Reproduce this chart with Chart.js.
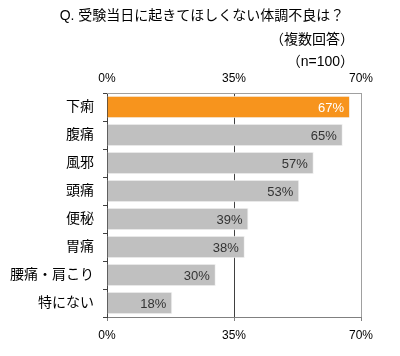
<!DOCTYPE html>
<html>
<head>
<meta charset="utf-8">
<script src="https://cdn.jsdelivr.net/npm/chart.js@4"></script>
<style>
html,body{margin:0;padding:0;background:#fff;}
#wrap{position:relative;width:400px;height:356px;}
</style>
</head>
<body>
<div id="wrap"><canvas id="c" width="400" height="356"></canvas></div>
<script>
const titleText = 'Q. 受験当日に起きてほしくない体調不良は？';
const subtitleLines = ['（複数回答）', '（n=100）'];
const categories = ['下痢', '腹痛', '風邪', '頭痛', '便秘', '胃痛', '腰痛・肩こり', '特にない'];
const values = [67, 65, 57, 53, 39, 38, 30, 18];
const barColors = ['#F7941D', '#C0C0C0', '#C0C0C0', '#C0C0C0', '#C0C0C0', '#C0C0C0', '#C0C0C0', '#C0C0C0'];
const labelColors = ['#FFFFFF', '#333333', '#333333', '#333333', '#333333', '#333333', '#333333', '#333333'];
const axisMin = 0, axisMax = 70, axisStep = 35;

const FONT = '"Liberation Sans", Arial, "Noto Sans CJK JP", sans-serif';

const titlePlugin = {
  id: 'customTitle',
  afterDraw(chart) {
    const ctx = chart.ctx;
    ctx.save();
    ctx.fillStyle = '#000';
    ctx.textBaseline = 'middle';
    ctx.font = '14px ' + FONT;
    ctx.textAlign = 'center';
    ctx.fillText(titleText, 202, 16);
    ctx.textAlign = 'right';
    ctx.fillText(subtitleLines[0], 354, 40);
    ctx.fillText(subtitleLines[1], 354, 62);
    ctx.restore();
  }
};

const valueLabels = {
  id: 'valueLabels',
  afterDatasetsDraw(chart) {
    const ctx = chart.ctx;
    const meta = chart.getDatasetMeta(0);
    ctx.save();
    ctx.font = '13px ' + FONT;
    ctx.textAlign = 'right';
    ctx.textBaseline = 'middle';
    meta.data.forEach((bar, i) => {
      ctx.fillStyle = labelColors[i];
      ctx.fillText(values[i] + '%', bar.x - 6, bar.y + 1);
    });
    ctx.restore();
  }
};

const borderPlugin = {
  id: 'frame',
  beforeDatasetsDraw(chart) {
    const a = chart.chartArea, ctx = chart.ctx;
    ctx.save();
    ctx.strokeStyle = '#A0A0A0';
    ctx.lineWidth = 1;
    ctx.beginPath();
    ctx.moveTo(a.left, a.top + 0.5); ctx.lineTo(a.right, a.top + 0.5);
    ctx.stroke();
    ctx.restore();
  }
};

new Chart(document.getElementById('c'), {
  type: 'bar',
  data: {
    labels: categories,
    datasets: [{
      data: values,
      backgroundColor: barColors,
      borderColor: '#F4F4F4',
      borderWidth: 1,
      barPercentage: 0.8,
      categoryPercentage: 1.0,
      xAxisID: 'x',
      yAxisID: 'y'
    }]
  },
  options: {
    indexAxis: 'y',
    responsive: false,
    animation: false,
    layout: { padding: { left: 0, right: 39, top: 0, bottom: 0 } },
    plugins: { legend: { display: false }, tooltip: { enabled: false }, title: { display: false } },
    scales: {
      x: {
        position: 'bottom',
        min: axisMin, max: axisMax,
        ticks: { stepSize: axisStep, callback: v => v + '%', color: '#000', font: { size: 12, family: FONT }, padding: 7, maxRotation: 0 },
        grid: {
          color: ctx => ctx.tick && ctx.tick.value === 35 ? '#404040' : '#A0A0A0',
          tickColor: '#808080',
          tickLength: 4,
          drawOnChartArea: true
        },
        border: { color: '#808080' },
        afterFit: s => { s.height = 39; }
      },
      x2: {
        position: 'top',
        min: axisMin, max: axisMax,
        ticks: { stepSize: axisStep, callback: v => v + '%', color: '#000', font: { size: 12, family: FONT }, padding: 7, maxRotation: 0 },
        grid: { drawOnChartArea: false, drawTicks: false },
        border: { display: false },
        afterFit: s => { s.height = 93; }
      },
      y: {
        position: 'left',
        ticks: { color: '#000', font: { size: 14, family: FONT }, padding: 9 },
        grid: { offset: true, drawOnChartArea: false, tickLength: 4, tickColor: '#404040' },
        border: { color: '#404040' },
        afterFit: s => { s.width = 107; }
      }
    }
  },
  plugins: [titlePlugin, valueLabels, borderPlugin]
});
</script>
</body>
</html>
